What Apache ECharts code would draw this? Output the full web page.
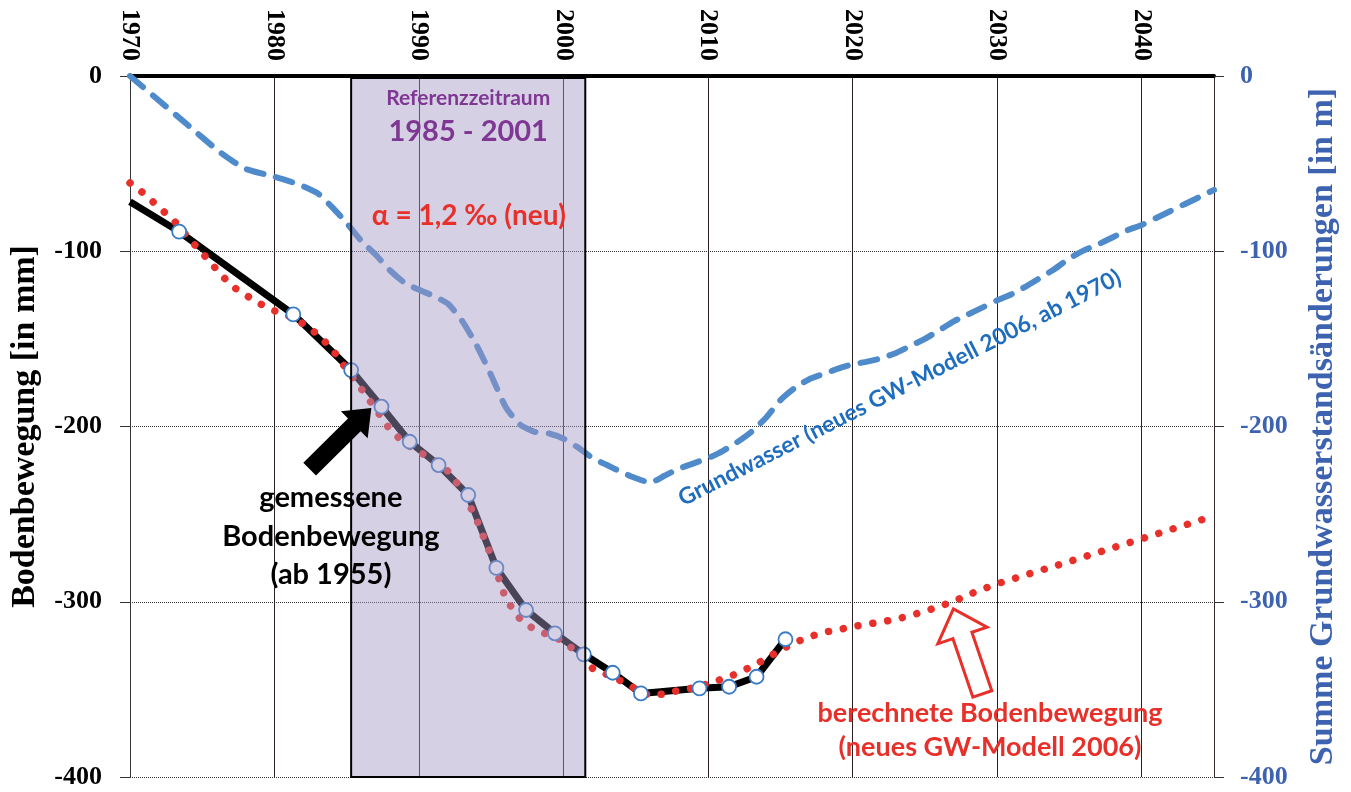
<!DOCTYPE html>
<html>
<head>
<meta charset="utf-8">
<title>Bodenbewegung und Grundwasser</title>
<script src="https://cdn.jsdelivr.net/npm/echarts@6/dist/echarts.min.js"></script>
<style>
  html, body { margin: 0; padding: 0; background: #fff; }
  #chart { width: 1351px; height: 792px; }
</style>
</head>
<body>
<div id="chart"></div>
<script>
// ---- axis ranges -------------------------------------------------------
const yearMin = 1970, yearMax = 2045, yearStep = 10;
const valueMin = -400, valueMax = 0, valueStep = 100;

// ---- reference period (shaded band) -----------------------------------
const periodStart = 1985.3;
const periodEnd = 2001.5;

// ---- measured ground movement [mm] (series begins 1955; first entry is
//      where it enters the plotted range, later entries are survey epochs)
const measuredYears = [1970, 1973.4, 1981.3, 1985.3, 1987.4, 1989.35, 1991.35, 1993.4, 1995.35,
  1997.4, 1999.4, 2001.4, 2003.4, 2005.35, 2009.4, 2011.45, 2013.35, 2015.35];
const measuredValues = [-71.7, -88.8, -136.0, -167.8, -188.7, -208.7, -222.0, -239.1, -280.7,
  -304.7, -318.0, -330.0, -340.5, -352.3, -349.4, -348.5, -342.8, -321.4];

// ---- calculated ground movement [mm], alpha = 1,2 permille ----------------
const calcYears = [1970, 1971, 1972, 1973, 1974, 1975, 1976, 1977, 1978, 1979,
  1980, 1981, 1982, 1983, 1984, 1985, 1986, 1987, 1988, 1989,
  1990, 1991, 1992, 1993, 1994, 1995, 1996, 1997, 1998, 1999,
  2000, 2001, 2002, 2003, 2004, 2005, 2006, 2007, 2008, 2009,
  2010, 2011, 2012, 2013, 2014, 2015, 2016, 2017, 2018, 2019,
  2020, 2021, 2022, 2023, 2024, 2025, 2026, 2027, 2028, 2029,
  2030, 2035, 2040, 2045];
const calcValues = [-61, -67.3, -75, -82, -92, -101, -110.5, -119.6, -125, -130,
  -134, -137, -141.5, -147.5, -156, -167.5, -178.5, -190, -202, -209.5,
  -214.5, -219, -225.5, -236.5, -253.5, -274, -298.5, -310, -316, -319,
  -322.5, -329.5, -338, -341.5, -345.3, -349.8, -353.7, -352.5, -350.5, -349.1,
  -346.8, -344, -341, -337, -332.5, -327.5, -323.3, -320, -317.4, -316,
  -314.2, -312.8, -311.5, -310, -307.8, -305.5, -302.6, -299.8, -296, -292.8,
  -289.7, -277, -264, -251];

// ---- cumulative groundwater level change [m] (GW model 2006, from 1970) --
const gwYears = [1970, 1972, 1974, 1976, 1977, 1978, 1980, 1981, 1982, 1983,
  1984, 1985, 1986, 1987, 1988, 1989, 1990, 1991, 1992, 1993,
  1994, 1995, 1996, 1997, 1998, 1999, 2000, 2001, 2002, 2003,
  2004, 2005, 2006, 2007, 2008, 2009, 2010, 2011, 2012, 2013,
  2014, 2015, 2016, 2017, 2018, 2019, 2020, 2021, 2022, 2023,
  2024, 2025, 2026, 2027, 2028, 2029, 2030, 2031, 2032, 2033,
  2034, 2035, 2036, 2037, 2038, 2039, 2040, 2041, 2042, 2043,
  2044, 2045];
const gwValues = [0, -14, -28, -42, -48, -53, -57.5, -60, -63, -67,
  -75, -84, -94, -102, -111, -118, -122, -125.5, -130, -140,
  -154, -171, -189, -199, -203, -204, -207, -212, -218, -222,
  -226, -229.5, -232, -228, -224, -221, -218, -214, -209, -203,
  -195, -185, -178, -173, -170, -167, -164.5, -163, -161, -158,
  -154, -150, -145, -140, -136, -132, -128, -124.5, -120, -115,
  -110, -104, -99.5, -96, -92, -88, -85, -81, -77, -73,
  -69, -65];

const zip = (xs, ys) => xs.map((x, i) => [x, ys[i]]);

// ---- colours & fonts ---------------------------------------------------
const RED = '#E8302A';
const GW_BLUE = '#4F8BCB';
const AXIS_BLUE = '#3D63B0';
const PURPLE = '#7E3793';
const SERIF = '"Liberation Serif", "Times New Roman", serif';
const SANS = 'Lato, "Open Sans", sans-serif';

const chart = echarts.init(document.getElementById('chart'), null, { renderer: 'canvas' });

const option = {
  animation: false,
  backgroundColor: '#fff',
  grid: { left: 128, right: 137, top: 76, bottom: 15, containLabel: false },
  xAxis: {
    type: 'value', position: 'top', min: yearMin, max: yearMax, interval: yearStep,
    axisLine: { show: true, onZero: false, lineStyle: { color: '#000', width: 4 } },
    axisTick: { show: false },
    axisLabel: {
      rotate: 90, margin: 15, color: '#000',
      fontFamily: SERIF, fontWeight: 'bold', fontSize: 26,
      formatter: v => (v % yearStep === 0 ? String(v) : '')
    },
    splitLine: { show: true, lineStyle: { color: '#2e2020', width: 1 } }
  },
  yAxis: [
    {
      type: 'value', min: valueMin, max: valueMax, interval: valueStep, position: 'left',
      name: 'Bodenbewegung [in mm]', nameLocation: 'middle', nameRotate: 90, nameGap: 88,
      nameTextStyle: { fontFamily: SERIF, fontWeight: 'bold', fontSize: 34, color: '#000' },
      axisLine: { show: true, lineStyle: { color: '#333', width: 1 } },
      axisTick: { show: true, length: 10, lineStyle: { color: '#333' } },
      axisLabel: { margin: 28, color: '#000', fontFamily: SERIF, fontWeight: 'bold', fontSize: 26 },
      splitLine: { show: true, lineStyle: { color: '#333', width: 1, type: 'dotted' } }
    },
    {
      type: 'value', min: valueMin, max: valueMax, interval: valueStep, position: 'right',
      name: 'Summe Grundwasserstandsänderungen [in m]', nameLocation: 'middle', nameRotate: 90, nameGap: 92,
      nameTextStyle: { fontFamily: SERIF, fontWeight: 'bold', fontSize: 34, color: AXIS_BLUE },
      axisLine: { show: true, lineStyle: { color: '#3a2a2a', width: 1 } },
      axisTick: { show: true, length: 10, lineStyle: { color: '#333' } },
      axisLabel: { margin: 26, color: AXIS_BLUE, fontFamily: SERIF, fontWeight: 'bold', fontSize: 26 },
      splitLine: { show: false }
    }
  ],
  series: [
    {
      name: 'Grundwasser', type: 'line', yAxisIndex: 1, z: 2,
      data: zip(gwYears, gwValues), symbol: 'none', smooth: 0.2, clip: true,
      lineStyle: { color: GW_BLUE, width: 6, type: [17, 13], cap: 'round' }
    },
    {
      name: 'gemessene Bodenbewegung', type: 'line', yAxisIndex: 0, z: 3,
      data: zip(measuredYears, measuredValues), symbol: 'none', clip: true,
      lineStyle: { color: '#000', width: 7, join: 'round' }
    },
    {
      name: 'berechnete Bodenbewegung', type: 'line', yAxisIndex: 0, z: 4,
      data: zip(calcYears, calcValues), symbol: 'none', clip: true,
      lineStyle: { color: RED, width: 7.5, type: [0.01, 15], cap: 'round' }
    },
    {
      name: 'Messungen', type: 'scatter', yAxisIndex: 0, z: 5,
      data: zip(measuredYears, measuredValues).slice(1),
      symbol: 'circle', symbolSize: 14,
      itemStyle: { color: '#fff', borderColor: '#3B7CC4', borderWidth: 1.8, opacity: 1 }
    },
    {
      name: 'Referenzzeitraum', type: 'custom', yAxisIndex: 0, z: 6, silent: true,
      data: [[periodStart, periodEnd]],
      encode: { x: [0, 1] },
      renderItem: (params, api) => {
        const a = api.coord([api.value(0), valueMax]);
        const b = api.coord([api.value(1), valueMin]);
        return {
          type: 'rect',
          shape: { x: a[0], y: a[1] + 2, width: b[0] - a[0], height: b[1] - a[1] - 2 },
          style: { fill: 'rgba(164,151,196,0.45)', stroke: '#000', lineWidth: 2 }
        };
      }
    }
  ]
};

chart.setOption(option);

// ---- annotations, placed in data coordinates -------------------------------
const px = (x, y) => chart.convertToPixel({ xAxisIndex: 0, yAxisIndex: 0 }, [x, y]);

function arrowPoints(tail, tip, shaftW, headW, headL) {
  const dx = tip[0] - tail[0], dy = tip[1] - tail[1];
  const len = Math.hypot(dx, dy);
  const ux = dx / len, uy = dy / len, nx = -uy, ny = ux;
  const bx = tip[0] - ux * headL, by = tip[1] - uy * headL;
  return [
    [tail[0] + nx * shaftW / 2, tail[1] + ny * shaftW / 2],
    [bx + nx * shaftW / 2, by + ny * shaftW / 2],
    [bx + nx * headW / 2, by + ny * headW / 2],
    [tip[0], tip[1]],
    [bx - nx * headW / 2, by - ny * headW / 2],
    [bx - nx * shaftW / 2, by - ny * shaftW / 2],
    [tail[0] - nx * shaftW / 2, tail[1] - ny * shaftW / 2]
  ];
}

function label(pos, text, size, color, extra) {
  return Object.assign({
    type: 'text', x: pos[0], y: pos[1], z: 100,
    style: {
      text: text, fill: color, fontFamily: SANS, fontWeight: 'bold', fontSize: size,
      align: 'center', verticalAlign: 'middle'
    }
  }, extra || {});
}

const gwLabelPos = px(2023.25, -178);
const gwLabelRotation = 27 * Math.PI / 180;

chart.setOption({
  graphic: [
    label(px(1993.4, -12.6), 'Referenzzeitraum', 21, PURPLE),
    label(px(1993.4, -32), '1985 - 2001', 29, PURPLE),
    label(px(1993.45, -80), 'α = 1,2 ‰ (neu)', 28, RED),
    label(px(1983.9, -240.8), 'gemessene', 29, '#000'),
    label(px(1983.9, -263), 'Bodenbewegung', 29, '#000'),
    label(px(1983.9, -284.7), '(ab 1955)', 29, '#000'),
    label(px(2029.5, -363.5), 'berechnete Bodenbewegung', 27, RED),
    label(px(2029.5, -382.9), '(neues GW-Modell 2006)', 27, RED),
    label(gwLabelPos, 'Grundwasser (neues GW-Modell 2006, ab 1970)', 23, '#1F6DBE',
      { rotation: gwLabelRotation }),
    {
      type: 'polygon', z: 100,
      shape: { points: arrowPoints(px(1982.43, -224.3), px(1986.7, -189.4), 18, 38, 24) },
      style: { fill: '#000' }
    },
    {
      type: 'polygon', z: 100,
      shape: { points: arrowPoints(px(2028.97, -352.6), px(2026.97, -304.1), 20, 52, 28) },
      style: { fill: '#fff', stroke: RED, lineWidth: 3, lineJoin: 'miter' }
    }
  ]
});
</script>
</body>
</html>
